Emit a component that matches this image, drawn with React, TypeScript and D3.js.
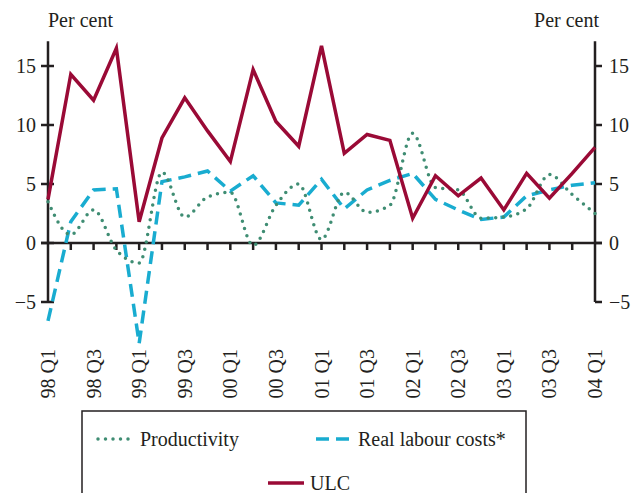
import { useEffect, useRef } from "react";
import * as d3 from "d3";

const quarters = [
  "98 Q1", "98 Q2", "98 Q3", "98 Q4",
  "99 Q1", "99 Q2", "99 Q3", "99 Q4",
  "00 Q1", "00 Q2", "00 Q3", "00 Q4",
  "01 Q1", "01 Q2", "01 Q3", "01 Q4",
  "02 Q1", "02 Q2", "02 Q3", "02 Q4",
  "03 Q1", "03 Q2", "03 Q3", "03 Q4",
  "04 Q1",
];

const productivity = [
  3.5, 0.7, 2.8, -0.6, -1.7, 6.0, 2.2, 3.9, 4.3, -0.2, 3.2, 5.0,
  0.3, 4.3, 2.6, 3.2, 9.3, 4.7, 4.5, 2.1, 2.2, 2.9, 5.8, 4.1, 2.5,
];

const realLabourCosts = [
  -6.6, 1.8, 4.5, 4.6, -8.5, 5.2, 5.6, 6.1, 4.4, 5.7, 3.4, 3.2,
  5.4, 2.9, 4.5, 5.3, 5.9, 3.7, 2.8, 2.0, 2.2, 4.0, 4.5, 4.9, 5.1,
];

const ulc = [
  3.7, 14.3, 12.1, 16.5, 1.8, 8.9, 12.3, 9.5, 6.9, 14.7, 10.3, 8.2,
  16.7, 7.6, 9.2, 8.7, 2.1, 5.7, 4.0, 5.5, 2.8, 5.9, 3.8, 5.9, 8.1,
];

const yTicks = [-5, 0, 5, 10, 15];

const App = () => {
  const ref = useRef<SVGSVGElement>(null);

  useEffect(() => {
    if (!ref.current) return;
    const svg = d3.select(ref.current);
    svg.selectAll("*").remove();

    const axisColor = "#231f20";
    const font = "'Liberation Serif', 'Times New Roman', serif";

    const x = d3.scalePoint().domain(quarters).range([48, 595]);
    const y = d3.scaleLinear().domain([-5, 15]).range([302, 66]);

    // axes
    const g = svg.append("g");
    g.append("line")
      .attr("x1", 48).attr("x2", 48)
      .attr("y1", y(17.1)).attr("y2", y(-5))
      .attr("stroke", axisColor).attr("stroke-width", 2.5);
    g.append("line")
      .attr("x1", 595).attr("x2", 595)
      .attr("y1", y(17.1)).attr("y2", y(-5))
      .attr("stroke", axisColor).attr("stroke-width", 2.5);
    g.append("line")
      .attr("x1", 41).attr("x2", 602)
      .attr("y1", y(0)).attr("y2", y(0))
      .attr("stroke", axisColor).attr("stroke-width", 2.5);

    yTicks.forEach((t) => {
      g.append("line")
        .attr("x1", 41).attr("x2", 54)
        .attr("y1", y(t)).attr("y2", y(t))
        .attr("stroke", axisColor).attr("stroke-width", 2.5);
      g.append("line")
        .attr("x1", 595).attr("x2", 602)
        .attr("y1", y(t)).attr("y2", y(t))
        .attr("stroke", axisColor).attr("stroke-width", 2.5);
      const label = t < 0 ? "\u2212" + Math.abs(t) : String(t);
      g.append("text")
        .attr("x", 36).attr("y", y(t))
        .attr("text-anchor", "end")
        .attr("dominant-baseline", "central")
        .attr("font-family", font).attr("font-size", 20)
        .attr("fill", axisColor)
        .text(label);
      g.append("text")
        .attr("x", 609).attr("y", y(t))
        .attr("text-anchor", "start")
        .attr("dominant-baseline", "central")
        .attr("font-family", font).attr("font-size", 20)
        .attr("fill", axisColor)
        .text(label);
    });

    quarters.forEach((q, i) => {
      if (i > 0 && i < quarters.length - 1) {
        g.append("line")
          .attr("x1", x(q)).attr("x2", x(q))
          .attr("y1", y(0)).attr("y2", y(0) + 7)
          .attr("stroke", axisColor).attr("stroke-width", 2.5);
      }
      if (i % 2 === 0) {
        g.append("text")
          .attr("transform", `translate(${x(q)}, 349) rotate(-90)`)
          .attr("text-anchor", "end")
          .attr("dominant-baseline", "central")
          .attr("font-family", font).attr("font-size", 20)
          .attr("fill", axisColor)
          .text(q);
      }
    });

    g.append("text")
      .attr("x", 48).attr("y", 27)
      .attr("font-family", font).attr("font-size", 20)
      .attr("fill", axisColor)
      .text("Per cent");
    g.append("text")
      .attr("x", 599).attr("y", 27)
      .attr("text-anchor", "end")
      .attr("font-family", font).attr("font-size", 20)
      .attr("fill", axisColor)
      .text("Per cent");

    // series
    const line = (curve) =>
      d3.line<number>()
        .x((d, i) => x(quarters[i]))
        .y((d) => y(d))
        .curve(curve);

    svg.append("path")
      .datum(realLabourCosts)
      .attr("fill", "none")
      .attr("stroke", "#19acd0")
      .attr("stroke-width", 3.5)
      .attr("stroke-dasharray", "13 7")
      .attr("d", line(d3.curveLinear));

    svg.append("path")
      .datum(productivity)
      .attr("fill", "none")
      .attr("stroke", "#3f8d73")
      .attr("stroke-width", 3.5)
      .attr("stroke-linecap", "round")
      .attr("stroke-dasharray", "0 7.5")
      .attr("d", line(d3.curveMonotoneX));

    svg.append("path")
      .datum(ulc)
      .attr("fill", "none")
      .attr("stroke", "#9a0a36")
      .attr("stroke-width", 3.5)
      .attr("d", line(d3.curveLinear));

    // legend
    const lg = svg.append("g");
    lg.append("rect")
      .attr("x", 82).attr("y", 411)
      .attr("width", 444).attr("height", 120)
      .attr("fill", "white")
      .attr("stroke", axisColor).attr("stroke-width", 1.5);

    const items = [
      { name: "Productivity", color: "#3f8d73", dash: "0 7.5", cap: "round", x: 98, y: 439 },
      { name: "Real labour costs*", color: "#19acd0", dash: "13 7", cap: "butt", x: 316, y: 439 },
      { name: "ULC", color: "#9a0a36", dash: null, cap: "butt", x: 268, y: 483 },
    ];
    items.forEach((it) => {
      lg.append("line")
        .attr("x1", it.x).attr("x2", it.x + 36)
        .attr("y1", it.y).attr("y2", it.y)
        .attr("stroke", it.color).attr("stroke-width", 3.5)
        .attr("stroke-linecap", it.cap)
        .attr("stroke-dasharray", it.dash);
      lg.append("text")
        .attr("x", it.x + 42).attr("y", it.y)
        .attr("dominant-baseline", "central")
        .attr("font-family", font).attr("font-size", 20)
        .attr("fill", axisColor)
        .text(it.name);
    });
  }, []);

  return (
    <svg
      ref={ref}
      width={642}
      height={493}
      style={{ position: "absolute", left: 0, top: 0, background: "white" }}
    />
  );
};

export default App;
